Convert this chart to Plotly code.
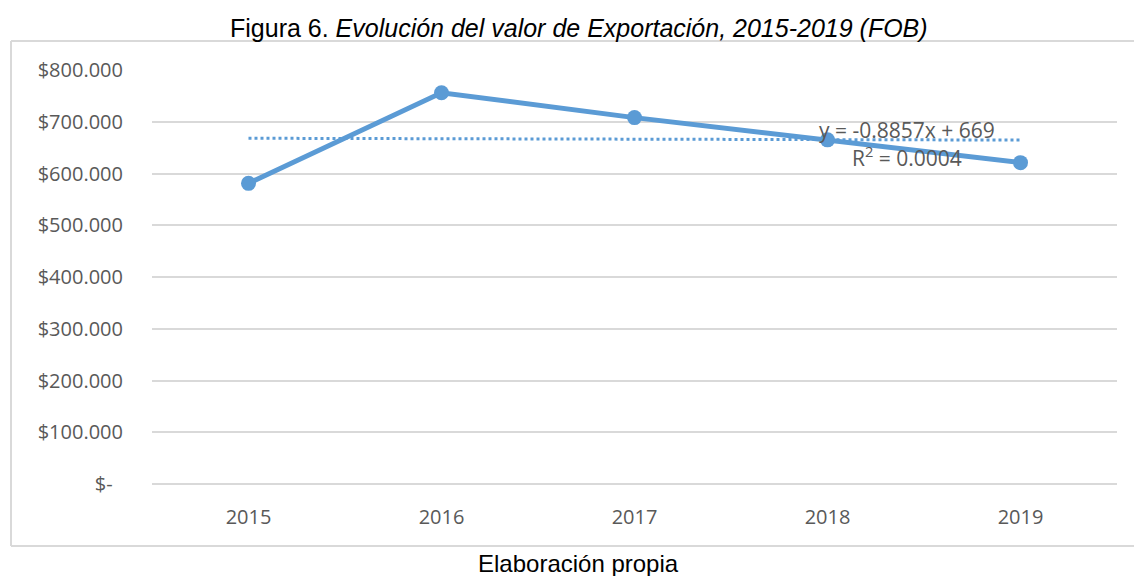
import plotly.graph_objects as go

# datos (miles de USD, FOB)
years = ['2015', '2016', '2017', '2018', '2019']
export_value = [581, 756, 708, 665, 621]
trend_value = [668.1, 667.2, 666.3, 665.5, 664.6]

y_ticks = [0, 100, 200, 300, 400, 500, 600, 700, 800]
y_ticktext = ['$-  ', '$100.000', '$200.000', '$300.000', '$400.000',
              '$500.000', '$600.000', '$700.000', '$800.000']

trend_eq = 'y = -0.8857x + 669'
trend_r2 = 'R<sup>2</sup> = 0.0004'

BLUE = '#5B9BD5'
GREY = '#595959'
GRID = '#D9D9D9'
TICK_FONT = dict(family='Open Sans', size=20, color=GREY)

W, H = 1134, 576
L, R, T, B = 152, 17, 70, 92
pw, ph = W - L - R, H - T - B


def px_x(x):
    return (x - L) / pw


def px_y(y):
    return (H - B - y) / ph


fig = go.Figure()

fig.add_trace(go.Scatter(
    x=years, y=trend_value, mode='lines',
    line=dict(color=BLUE, width=3, dash='dot'),
    hoverinfo='skip', showlegend=False,
))

fig.add_trace(go.Scatter(
    x=years, y=export_value, mode='lines+markers',
    line=dict(color=BLUE, width=5),
    marker=dict(color=BLUE, size=15),
    showlegend=False,
))

# cuadro del gráfico (sin borde derecho, queda fuera de la imagen)
bx0, bx1, by0, by1 = px_x(11), px_x(1134), px_y(546), px_y(41)
for x0, y0, x1, y1 in [(bx0, by0, bx0, by1), (bx0, by1, bx1, by1), (bx0, by0, bx1, by0)]:
    fig.add_shape(type='line', xref='paper', yref='paper', x0=x0, y0=y0, x1=x1, y1=y1,
                  line=dict(color=GRID, width=2), layer='below')

fig.add_annotation(x=3.41, y=684, xref='x', yref='y', text=trend_eq,
                   showarrow=False, yanchor='middle',
                   font=dict(family='Open Sans', size=21, color=GREY))
fig.add_annotation(x=3.41, y=632, xref='x', yref='y', text=trend_r2,
                   showarrow=False, yanchor='middle',
                   font=dict(family='Open Sans', size=21, color=GREY))

fig.add_annotation(x=px_x(579), y=px_y(28), xref='paper', yref='paper',
                   text='Figura 6. <i>Evolución del valor de Exportación, 2015-2019 (FOB)</i>',
                   showarrow=False, xanchor='center', yanchor='middle',
                   font=dict(family='Liberation Sans', size=25, color='black'))
fig.add_annotation(x=px_x(578), y=px_y(563), xref='paper', yref='paper',
                   text='Elaboración propia', showarrow=False,
                   xanchor='center', yanchor='middle',
                   font=dict(family='Liberation Sans', size=24, color='black'))

fig.update_layout(
    width=W, height=H,
    margin=dict(l=L, r=R, t=T, b=B),
    paper_bgcolor='white', plot_bgcolor='white',
    xaxis=dict(type='category', range=[-0.5, 4.5], showgrid=False, zeroline=False,
               showline=False, ticks='', tickfont=TICK_FONT, ticklabelstandoff=19),
    yaxis=dict(range=[0, 800], tickvals=y_ticks, ticktext=y_ticktext,
               showgrid=True, gridcolor=GRID, gridwidth=1.5,
               zeroline=True, zerolinecolor=GRID, zerolinewidth=1.5,
               showline=False, ticks='', tickfont=TICK_FONT, ticklabelstandoff=28),
)

# sin margen ni barras de desplazamiento en la página
page_css = ("document.body.style.margin='0';"
            "document.body.style.overflow='hidden';"
            "document.documentElement.style.overflow='hidden';")
fig.write_html('out.html', config={'displayModeBar': False}, post_script=page_css)
